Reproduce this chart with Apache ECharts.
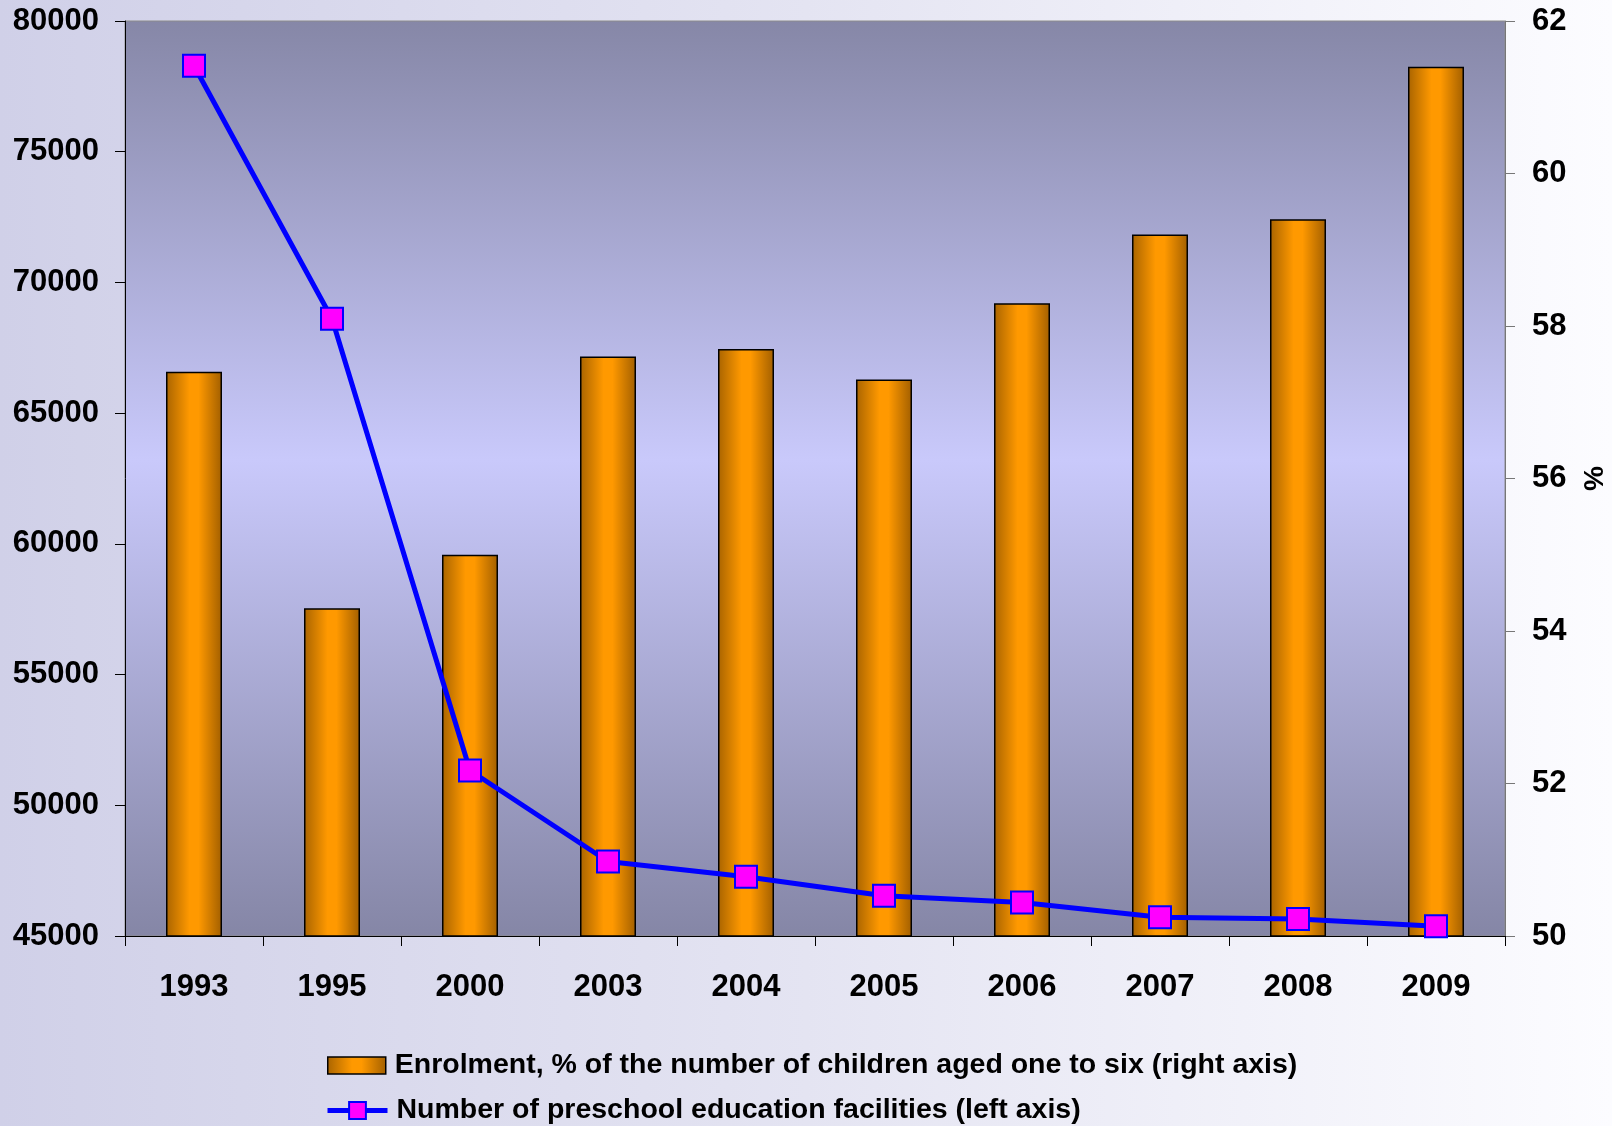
<!DOCTYPE html>
<html>
<head>
<meta charset="utf-8">
<title>Preschool education</title>
<script src="https://cdn.jsdelivr.net/npm/echarts@6/dist/echarts.min.js"></script>
<style>
  html, body { margin: 0; padding: 0; }
  #chart {
    width: 1612px; height: 1126px;
    background: linear-gradient(to right, #d0d0e8 0%, #e4e4f2 50%, #fcfcff 100%);
  }
</style>
</head>
<body>
<div id="chart"></div>
<script>
// Years shown on the category axis
const years = ['1993', '1995', '2000', '2003', '2004', '2005', '2006', '2007', '2008', '2009'];
// Enrolment, % of children aged one to six (right axis)
const enrolment = [57.4, 54.3, 55.0, 57.6, 57.7, 57.3, 58.3, 59.2, 59.4, 61.4];
// Number of preschool education facilities (left axis)
const facilities = [78290, 68610, 51330, 47850, 47270, 46540, 46280, 45720, 45650, 45370];

const enrolName = 'Enrolment, % of the number of children aged one to six (right axis)';
const facilName = 'Number of preschool education facilities (left axis)';

const FONT = '"Liberation Sans", Arial, sans-serif';

const chart = echarts.init(document.getElementById('chart'), null, { renderer: 'canvas' });

const barGradient = new echarts.graphic.LinearGradient(0, 0, 1, 0, [
  { offset: 0, color: '#a96400' },
  { offset: 0.42, color: '#ff9900' },
  { offset: 0.58, color: '#ff9900' },
  { offset: 1, color: '#a25f00' }
]);

const legendText = {
  fontFamily: FONT, fontSize: 28.5, fontWeight: 'bold', color: '#000',
  padding: [0, 0, 0, 4]
};

chart.setOption({
  backgroundColor: 'transparent',
  animation: false,
  textStyle: { fontFamily: FONT },
  grid: {
    left: 125, right: 107, top: 21, bottom: 190,
    containLabel: false,
    outerBoundsMode: 'none',
    show: true,
    borderColor: '#8c8c8c',
    borderWidth: 1,
    backgroundColor: new echarts.graphic.LinearGradient(0, 0, 0, 1, [
      { offset: 0, color: '#8687a7' },
      { offset: 0.48, color: '#c9c9fb' },
      { offset: 1, color: '#8586a6' }
    ])
  },
  legend: [
    {
      left: 322, top: 1046,
      itemWidth: 58, itemHeight: 17,
      icon: 'rect',
      data: [{ name: enrolName, itemStyle: { borderColor: '#000', borderWidth: 1.5 } }],
      textStyle: legendText
    },
    {
      left: 320, top: 1091,
      itemWidth: 60, itemHeight: 21,
      data: [{ name: facilName, lineStyle: { width: 5, color: '#0000ff' } }],
      textStyle: legendText
    }
  ],
  xAxis: {
    type: 'category',
    data: years,
    boundaryGap: true,
    axisLine: { lineStyle: { color: '#000', width: 1 } },
    axisTick: { show: true, length: 10, lineStyle: { color: '#000' } },
    axisLabel: {
      margin: 36, fontSize: 31, fontWeight: 'bold', color: '#000', fontFamily: FONT
    },
    splitLine: { show: false }
  },
  yAxis: [
    {
      type: 'value',
      position: 'left',
      min: 45000, max: 80000, interval: 5000,
      axisLine: { show: true, lineStyle: { color: '#000', width: 1 } },
      axisTick: { show: true, length: 10, lineStyle: { color: '#000' } },
      axisLabel: {
        margin: 26, fontSize: 31, fontWeight: 'bold', color: '#000', fontFamily: FONT,
        formatter: v => String(v)
      },
      splitLine: { show: false }
    },
    {
      type: 'value',
      position: 'right',
      min: 50, max: 62, interval: 2,
      name: '%',
      nameLocation: 'middle',
      nameRotate: -90,
      nameGap: 71,
      nameTextStyle: { fontSize: 28, fontWeight: 'bold', color: '#000', fontFamily: FONT },
      axisLine: { show: true, lineStyle: { color: '#777', width: 1 } },
      axisTick: { show: true, length: 10, lineStyle: { color: '#777' } },
      axisLabel: { margin: 27, fontSize: 31, fontWeight: 'bold', color: '#000', fontFamily: FONT },
      splitLine: { show: false }
    }
  ],
  series: [
    {
      name: enrolName,
      type: 'bar',
      yAxisIndex: 1,
      data: enrolment,
      barWidth: 56,
      itemStyle: { color: barGradient, borderColor: '#000', borderWidth: 1.5 },
      z: 2
    },
    {
      name: facilName,
      type: 'line',
      yAxisIndex: 0,
      data: facilities,
      symbol: 'rect',
      symbolSize: 22,
      lineStyle: { color: '#0000ff', width: 5 },
      itemStyle: { color: '#ff00ff', borderColor: '#0000ff', borderWidth: 2 },
      z: 5
    }
  ]
});
</script>
</body>
</html>
